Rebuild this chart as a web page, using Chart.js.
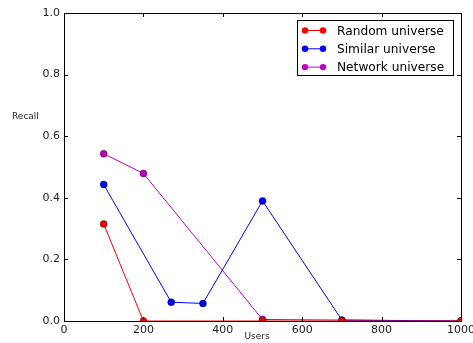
<!DOCTYPE html>
<html>
<head>
<meta charset="utf-8">
<script src="https://cdn.jsdelivr.net/npm/chart.js@4/dist/chart.umd.min.js"></script>
<style>
  body { margin: 0; background: #fff; }
  canvas { display: block; }
</style>
</head>
<body>
<canvas id="recallChart" width="473" height="343"></canvas>
<script>
const seriesNames = ['Random universe', 'Similar universe', 'Network universe'];
const seriesColors = ['#ff0000', '#0000ff', '#bf00bf'];

const randomUsers = [100, 200, 500, 700, 1000];
const randomRecall = [0.315, 0, 0, 0, 0];

const similarUsers = [100, 270, 350, 500, 700, 1000];
const similarRecall = [0.443, 0.061, 0.057, 0.39, 0.003, 0];

const networkUsers = [100, 200, 500, 1000];
const networkRecall = [0.543, 0.479, 0.005, 0];

const xTicks = [0, 200, 400, 600, 800, 1000];
const yTicks = [0, 0.2, 0.4, 0.6, 0.8, 1.0];

function toPoints(xs, ys) {
    return xs.map((x, i) => ({ x: x, y: ys[i] }));
}

function makeSeries(i, xs, ys) {
    return {
        label: seriesNames[i],
        data: toPoints(xs, ys),
        showLine: true,
        borderColor: seriesColors[i],
        backgroundColor: seriesColors[i],
        borderWidth: 1,
        pointRadius: 3.5,
        pointBorderColor: '#000',
        pointBorderWidth: 0.4,
        pointBackgroundColor: seriesColors[i]
    };
}

// box around the axes, inward tick marks, axis titles and legend
const frame = {
    id: 'frame',
    afterDraw(chart) {
        const ctx = chart.ctx;
        const a = chart.chartArea;
        const xs = chart.scales.x, ys = chart.scales.y;
        ctx.save();
        ctx.strokeStyle = '#000';
        ctx.lineWidth = 1;
        ctx.strokeRect(Math.round(a.left) + 0.5, Math.round(a.top) + 0.5,
            Math.round(a.right - a.left), Math.round(a.bottom - a.top));
        ctx.beginPath();
        xTicks.forEach(v => {
            const px = Math.round(xs.getPixelForValue(v)) + 0.5;
            ctx.moveTo(px, a.bottom); ctx.lineTo(px, a.bottom - 4);
            ctx.moveTo(px, a.top); ctx.lineTo(px, a.top + 4);
        });
        yTicks.forEach(v => {
            const py = Math.round(ys.getPixelForValue(v)) + 0.5;
            ctx.moveTo(a.left, py); ctx.lineTo(a.left + 4, py);
            ctx.moveTo(a.right, py); ctx.lineTo(a.right - 4, py);
        });
        ctx.stroke();

        ctx.fillStyle = '#222';
        ctx.font = '9px "DejaVu Sans"';
        ctx.textBaseline = 'middle';
        ctx.textAlign = 'left';
        ctx.fillText('Recall', 12, 117);
        ctx.textAlign = 'center';
        ctx.fillText('Users', 257, 337);

        // legend
        const lx = 297, ly = 20, lw = 156, lh = 55;
        ctx.fillStyle = '#fff';
        ctx.fillRect(lx, ly, lw, lh);
        ctx.strokeStyle = '#000';
        ctx.strokeRect(lx + 0.5, ly + 0.5, lw, lh);
        ctx.font = '12.2px "DejaVu Sans"';
        ctx.textAlign = 'left';
        chart.data.datasets.forEach((ds, i) => {
            const cy = 30.5 + i * 18.3;
            ctx.strokeStyle = ds.borderColor;
            ctx.beginPath();
            ctx.moveTo(305, cy); ctx.lineTo(323, cy);
            ctx.stroke();
            ctx.fillStyle = ds.borderColor;
            [305, 323].forEach(mx => {
                ctx.beginPath();
                ctx.arc(mx, cy, 3.2, 0, Math.PI * 2);
                ctx.fill();
            });
            ctx.fillStyle = '#000';
            ctx.fillText(ds.label, 337, cy + 1);
        });
        ctx.restore();
    }
};

new Chart(document.getElementById('recallChart'), {
    type: 'scatter',
    data: {
        datasets: [
            makeSeries(0, randomUsers, randomRecall),
            makeSeries(1, similarUsers, similarRecall),
            makeSeries(2, networkUsers, networkRecall)
        ]
    },
    options: {
        responsive: false,
        devicePixelRatio: 1,
        animation: false,
        layout: { autoPadding: false, padding: { top: 13, right: 12, left: 0, bottom: 0 } },
        plugins: { legend: { display: false }, tooltip: { enabled: false } },
        scales: {
            x: {
                type: 'linear',
                min: 0, max: 1000,
                afterFit: s => { s.height = 22; s.paddingLeft = 0; s.paddingRight = 0; },
                afterBuildTicks: s => { s.ticks = xTicks.map(v => ({ value: v })); },
                grid: { display: false, drawTicks: false },
                border: { display: false },
                ticks: {
                    color: '#222', padding: 3, maxRotation: 0,
                    font: { family: 'DejaVu Sans', size: 11 },
                    callback: v => String(v)
                }
            },
            y: {
                type: 'linear',
                min: 0, max: 1,
                afterFit: s => { s.width = 64; s.paddingTop = 0; s.paddingBottom = 0; },
                afterBuildTicks: s => { s.ticks = yTicks.map(v => ({ value: v })); },
                grid: { display: false, drawTicks: false },
                border: { display: false },
                ticks: {
                    color: '#222', padding: 4,
                    font: { family: 'DejaVu Sans', size: 11 },
                    callback: v => v.toFixed(1)
                }
            }
        }
    },
    plugins: [frame]
});
</script>
</body>
</html>
